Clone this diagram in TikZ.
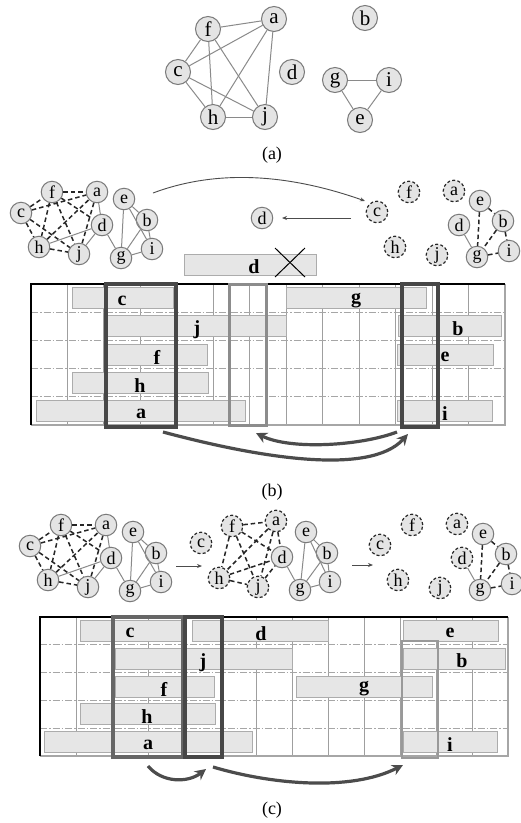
\documentclass[tikz,border=0pt]{standalone}
\usepackage{fontspec}
\setmainfont{Liberation Serif}
\usetikzlibrary{arrows.meta}
\definecolor{nfill}{HTML}{E4E4E4}
\definecolor{ngray}{HTML}{7A7A7A}
\definecolor{egray}{HTML}{8A8A8A}
\definecolor{bfill}{HTML}{E6E6E6}
\tikzset{
  vbase/.style={circle, inner sep=0pt, minimum size=21.5pt, fill=nfill, font=\fontsize{18}{18}\selectfont},
  vs/.style={vbase, draw=ngray, line width=1pt},
  vd/.style={vbase, draw=black!85, line width=1.2pt, dash pattern=on 3pt off 2.2pt},
  va/.style={vs, minimum size=25pt, font=\fontsize{21}{21}\selectfont},
  se/.style={draw=egray, line width=1pt},
  de/.style={draw=black!85, line width=1.5pt, dash pattern=on 4.5pt off 3pt},
  colline/.style={draw=gray!75, line width=0.9pt},
  rowline/.style={draw=gray!70, line width=1.3pt, dash pattern=on 7pt off 2pt on 1.5pt off 2pt},
  barst/.style={draw=gray!65, fill=bfill, line width=0.9pt},
  blab/.style={font=\bfseries\fontsize{20}{20}\selectfont, inner sep=0pt},
  hidark/.style={draw=black!72, line width=3.2pt},
  himid/.style={draw=black!45, line width=3pt},
  bigarrow/.style={draw=black!70, line width=3.2pt, -{Stealth[length=11pt,width=11pt]}},
  thinarrow/.style={draw=black!70, line width=0.9pt, -{Stealth[length=5pt,width=4pt]}},
  caption/.style={font=\fontsize{18}{18}\selectfont, inner sep=0pt},
}
\newcommand{\barbox}[3]{\draw[barst] (#1,{#3-10.5}) rectangle (#2,{#3+10.5});}
\newcommand{\graphLeft}{%
  \node[vs] (c) at (21,213) {c};
  \node[vs] (f) at (52,192) {f};
  \node[vs] (a) at (97,192) {a};
  \node[vs] (e) at (124,199) {e};
  \node[vs] (b) at (147,220) {b};
  \node[vs] (d) at (102,225) {d};
  \node[vs] (h) at (39,247) {h};
  \node[vs] (j) at (79,254) {j};
  \node[vs] (g) at (121,258) {g};
  \node[vs] (i) at (152,249) {i};
  \foreach \p/\q in {c/f,c/a,c/h,c/j,f/a,f/h,f/j,f/d,h/a,h/j,a/j} \draw[de] (\p) -- (\q);
  \foreach \p/\q in {a/d,h/d,j/d,d/g,e/g,e/i,e/b,b/g,b/i,g/i} \draw[se] (\p) -- (\q);
}
\newcommand{\graphRight}[1]{%
  \node[vd] (c) at (377,212) {c};
  \node[vd] (f) at (409,192) {f};
  \node[vd] (a) at (454,191) {a};
  \node[vs] (e) at (480,201) {e};
  \node[vs] (b) at (503,221) {b};
  \node[#1] (d) at (459,225) {d};
  \node[vd] (h) at (395,247) {h};
  \node[vd] (j) at (437,255) {j};
  \node[vs] (g) at (477,257) {g};
  \node[vs] (i) at (509,251) {i};
  \draw[se] (d) -- (g);
  \foreach \p/\q in {e/g,e/b,b/g,b/i,g/i} \draw[de] (\p) -- (\q);
}
\begin{document}
\begin{tikzpicture}[x=1pt,y=-1pt]
\useasboundingbox (0,0) rectangle (521,823);
\fill[white] (0,0) rectangle (521,823);

% ---------------- (a)
\node[va] (A-f) at (208,29) {f};
\node[va] (A-a) at (274,19) {a};
\node[va] (A-b) at (365,18) {b};
\node[va] (A-c) at (178,72) {c};
\node[va] (A-d) at (292,72) {d};
\node[va] (A-g) at (335,80) {g};
\node[va] (A-i) at (389,80) {i};
\node[va] (A-h) at (213,117) {h};
\node[va] (A-j) at (265,117) {j};
\node[va] (A-e) at (360,120) {e};
\foreach \p/\q in {f/a,f/c,f/h,f/j,c/a,c/h,c/j,h/a,h/j,a/j,g/i,g/e,i/e} \draw[se] (A-\p) -- (A-\q);
\node[caption] (capA) at (272,155) {(a)};

% ---------------- (b) graphs
\begin{scope}[name prefix=B1-]
  \graphLeft
\end{scope}
\begin{scope}[name prefix=B2-]
  \graphRight{vs}
\end{scope}
\coordinate (Bstart) at (153,193);
\draw[thinarrow] (Bstart) .. controls (225,166) and (300,178) .. ([xshift=-4pt,yshift=3pt]B2-c.north west);
\node[vs] (B-d) at (262,218) {d};
\coordinate (Barr) at (351,218);
\draw[thinarrow] (Barr) -- ([xshift=20pt]B-d.center);

% removed d bar
\draw[barst] (184,254) rectangle (316,275);
\node[blab] (Bdlab) at (254,267) {d};
\coordinate (X1) at (275,248);
\coordinate (X2) at (305,277);
\coordinate (X3) at (305,248);
\coordinate (X4) at (275,277);
\draw[black, line width=1pt] (X1) -- (X2);
\draw[black, line width=1pt] (X3) -- (X4);

% ---------------- (b) grid
\foreach \k in {1,...,12} \draw[colline] ({31+36.46*\k},284) -- ({31+36.46*\k},425);
\foreach \r in {1,...,4} \draw[rowline] (31,{284+28.2*\r}) -- (505,{284+28.2*\r});
\draw[draw=gray!70, line width=1.2pt] (31,425) -- (505,425) -- (505,284);
\draw[black, line width=1.6pt] (31,425) -- (31,284) -- (505,284);
\barbox{72}{173}{298.1}
\barbox{286}{426}{298.1}
\barbox{107}{286}{326.3}
\barbox{398}{501}{326.3}
\barbox{107}{207}{354.5}
\barbox{397}{493}{354.5}
\barbox{72}{208}{382.7}
\barbox{36}{245}{410.9}
\barbox{397}{492}{410.9}
\draw[hidark] (106,284) rectangle (176,427);
\draw[himid] (229,284) rectangle (266,425);
\draw[hidark] (402,284) rectangle (438,427);
\node[blab] (Bl-c) at (122,300.5) {c};
\node[blab] (Bl-g) at (356,300.5) {g};
\node[blab] (Bl-j) at (197,330) {j};
\node[blab] (Bl-b) at (458,328.8) {b};
\node[blab] (Bl-f) at (157,357) {f};
\node[blab] (Bl-e) at (445,357) {e};
\node[blab] (Bl-h) at (140,385.2) {h};
\node[blab] (Bl-a) at (141,413.4) {a};
\node[blab] (Bl-i) at (445,413.4) {i};
\coordinate (Ba1) at (163,432);
\coordinate (Ba2) at (408,434);
\coordinate (Ba3) at (397,432);
\coordinate (Ba4) at (256,433);
\draw[bigarrow] (Ba1) .. controls (260,458) and (370,476) .. (Ba2);
\draw[bigarrow] (Ba3) .. controls (360,446) and (290,450) .. (Ba4);
\node[caption] (capB) at (272,492) {(b)};

% ---------------- (c) graphs
\begin{scope}[shift={(9,333)}, name prefix=C1-]
  \graphLeft
\end{scope}
\begin{scope}[shift={(180,333)}, name prefix=C2-]
  \node[vd] (c) at (21,210) {c};
  \node[vd] (f) at (52,193) {f};
  \node[vd] (a) at (96,188) {a};
  \node[vs] (e) at (126,199) {e};
  \node[vs] (b) at (147,220) {b};
  \node[vs] (d) at (102,224) {d};
  \node[vd] (h) at (39,245) {h};
  \node[vd] (j) at (78,254) {j};
  \node[vs] (g) at (120,257) {g};
  \node[vs] (i) at (150,249) {i};
  \foreach \p/\q in {f/a,f/h,f/j,f/d,a/h,a/j,a/d,h/j,h/d,j/d} \draw[de] (\p) -- (\q);
  \foreach \p/\q in {d/g,e/g,e/i,e/b,b/g,b/i,g/i} \draw[se] (\p) -- (\q);
\end{scope}
\begin{scope}[shift={(3,333)}, name prefix=C3-]
  \graphRight{vd}
\end{scope}
\coordinate (Ca1) at (176,566);
\coordinate (Ca2) at (202,566);
\coordinate (Ca3) at (352,565);
\coordinate (Ca4) at (373,565);
\draw[thinarrow] (Ca1) -- (Ca2);
\draw[thinarrow] (Ca3) -- (Ca4);

% ---------------- (c) grid
\foreach \k in {1,...,12} \draw[colline] ({40+36*\k},617) -- ({40+36*\k},756);
\foreach \r in {1,...,4} \draw[rowline] (40,{617+27.8*\r}) -- (508,{617+27.8*\r});
\draw[draw=gray!70, line width=1.2pt] (40,756) -- (508,756) -- (508,617);
\draw[black, line width=1.6pt] (40,756) -- (40,617) -- (508,617);
\barbox{80}{181}{630.9}
\barbox{192}{328}{630.9}
\barbox{403}{498}{630.9}
\barbox{115}{292}{658.7}
\barbox{403}{505}{658.7}
\barbox{115}{214}{686.5}
\barbox{296}{432}{686.5}
\barbox{80}{215}{714.3}
\barbox{44}{252}{742.1}
\barbox{403}{497}{742.1}
\draw[draw=black!60, line width=3.2pt] (113,617) rectangle (183,757);
\draw[hidark] (185,617) rectangle (222,757);
\draw[draw=black!40, line width=2.6pt] (402,641) rectangle (438,758);
\node[blab] (Cl-c) at (130,633.3) {c};
\node[blab] (Cl-d) at (261,633.3) {d};
\node[blab] (Cl-e) at (450,633.3) {e};
\node[blab] (Cl-j) at (203,662.5) {j};
\node[blab] (Cl-b) at (462,661.1) {b};
\node[blab] (Cl-f) at (164,689) {f};
\node[blab] (Cl-g) at (364,689) {g};
\node[blab] (Cl-h) at (147,716.8) {h};
\node[blab] (Cl-a) at (148,744.6) {a};
\node[blab] (Cl-i) at (450,744.6) {i};
\coordinate (Cb1) at (148,766);
\coordinate (Cb2) at (206,769);
\coordinate (Cb3) at (213,767);
\coordinate (Cb4) at (403,765);
\draw[bigarrow] (Cb1) .. controls (162,783) and (188,783) .. (Cb2);
\draw[bigarrow] (Cb3) .. controls (270,784) and (350,792) .. (Cb4);
\node[caption] (capC) at (272,810) {(c)};
\end{tikzpicture}
\end{document}
